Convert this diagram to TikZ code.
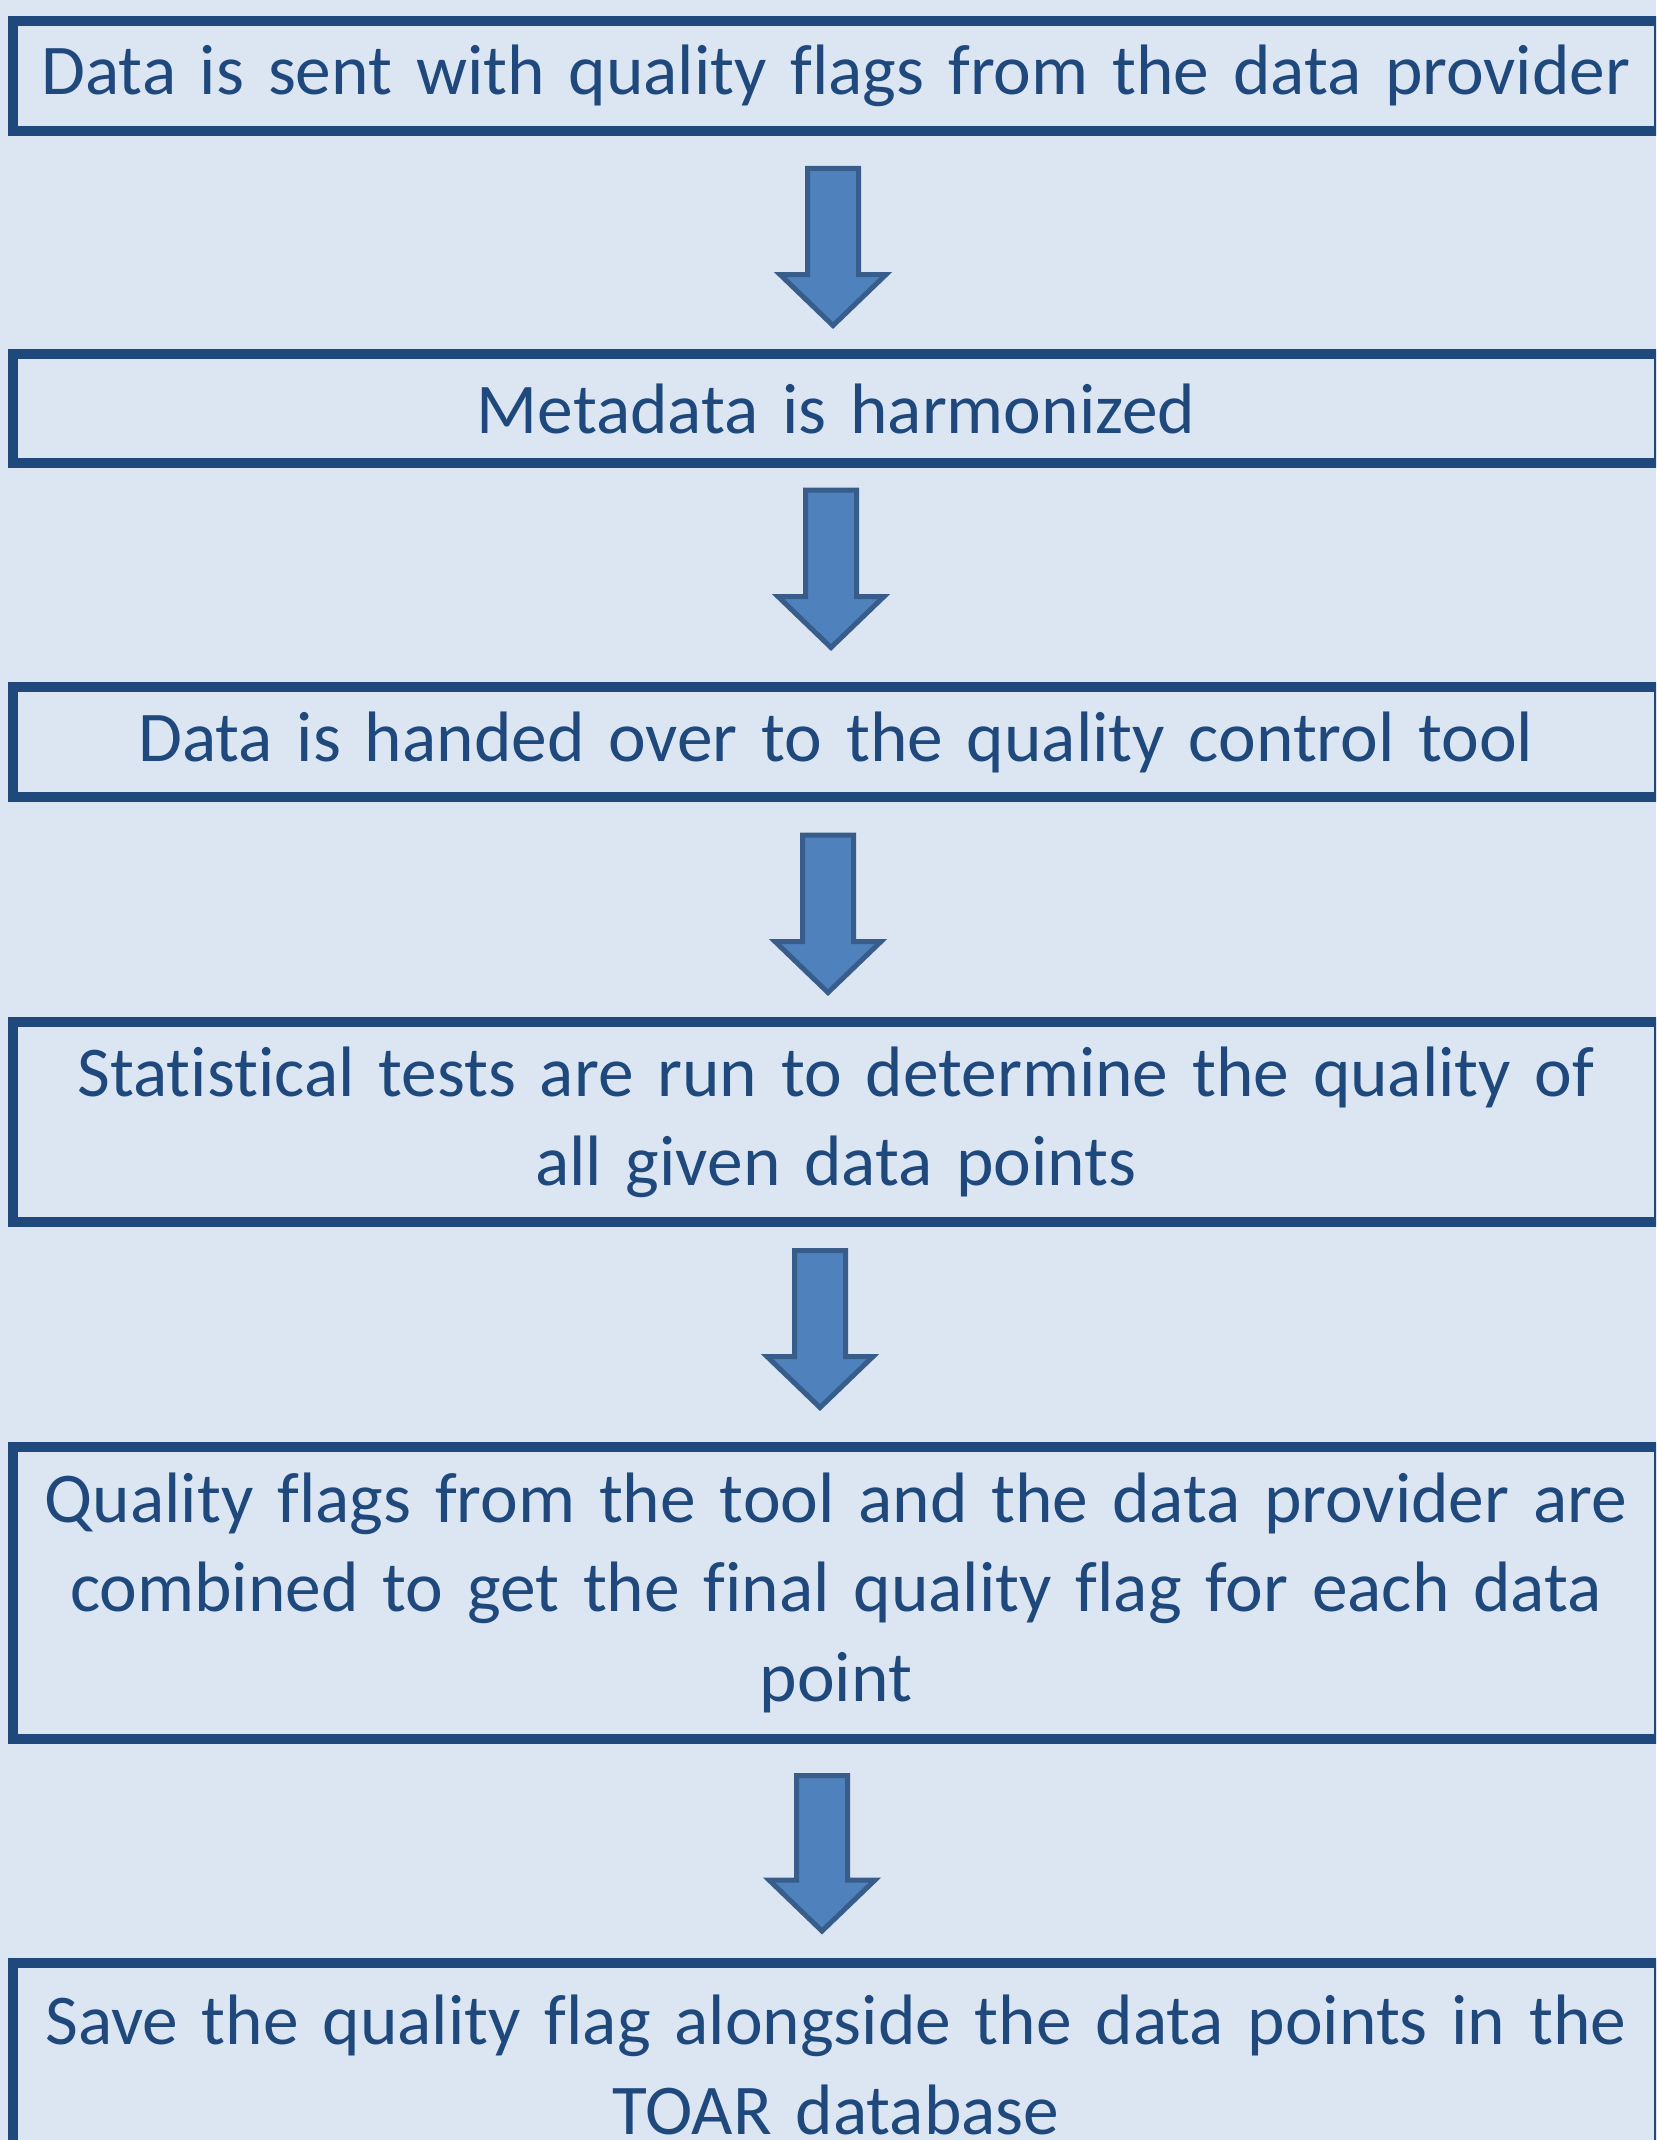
\documentclass[tikz,border=0pt]{standalone}
\usepackage{fontspec}
\setmainfont[Ligatures=NoCommon]{Carlito}
\definecolor{pagebg}{RGB}{220,230,242}
\definecolor{boxline}{RGB}{31,73,125}
\definecolor{boxtext}{RGB}{31,73,125}
\definecolor{arrowfill}{RGB}{79,129,189}
\definecolor{arrowline}{RGB}{56,93,138}

% block arrow pointing down: centre x, top of shaft, tip
\newcommand\drawflowarrow[3]{%
  \draw[flowarrow] (#1-25.5,#2) -- (#1+25.5,#2) -- (#1+25.5,#3-51)
    -- (#1+53,#3-51) -- (#1,#3) -- (#1-53,#3-51) -- (#1-25.5,#3-51) -- cycle;}

\begin{document}
\begin{tikzpicture}[x=0.5pt,y=-0.5pt,
  stagebox/.style={draw=boxline, line width=5pt, fill=pagebg, rectangle,
    inner sep=0pt, minimum width=823pt, text width=815pt, align=center,
    text=boxtext, font=\fontsize{35.7pt}{44.6pt}\selectfont},
  flowarrow/.style={draw=arrowline, fill=arrowfill, line width=2.5pt, line join=miter}]

\useasboundingbox (0,0) rectangle (1656,2140);
\clip (0,0) rectangle (1656,2140);
\fill[pagebg] (0,0) rectangle (1656,2140);

% process stages
\node[stagebox, minimum height=55pt]     (s1) at (836,76)     {Data is sent with quality flags from the data provider};
\node[stagebox, minimum height=54.5pt]   (s2) at (836,408.5)  {Metadata is harmonized};
\node[stagebox, minimum height=55pt]     (s3) at (836,742)    {Data is handed over to the quality control tool};
\node[stagebox, minimum height=100pt]    (s4) at (836,1122)   {Statistical tests are run to determine the quality of\\ all given data points};
\node[stagebox, minimum height=146.25pt] (s5) at (836,1592.75){Quality flags from the tool and the data provider are\\ combined to get the final quality flag for each data\\ point};
\node[stagebox, minimum height=102pt]    (s6) at (836,2065)   {Save the quality flag alongside the data points in the\\ TOAR database};

% arrows between stages
\drawflowarrow{833}{168.5}{325.5}
\drawflowarrow{831}{490}{647.5}
\drawflowarrow{828}{835}{992.5}
\drawflowarrow{820}{1250.5}{1407.5}
\drawflowarrow{822}{1775.5}{1931}
\end{tikzpicture}
\end{document}
